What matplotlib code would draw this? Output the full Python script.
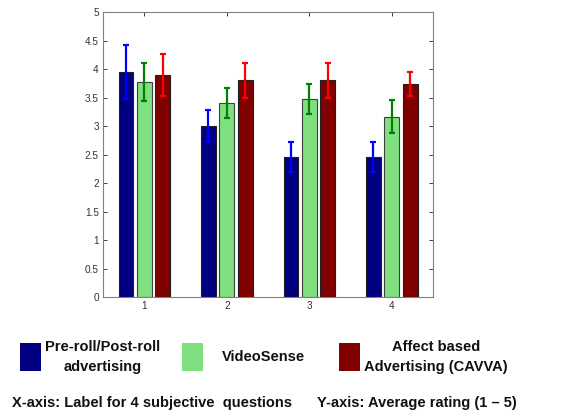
import matplotlib
matplotlib.use("Agg")
import matplotlib.pyplot as plt
from matplotlib.patches import Rectangle
import numpy as np

questions = [1, 2, 3, 4]
series_names = ["Pre-roll/Post-roll\nadvertising", "VideoSense",
                "Affect based\nAdvertising (CAVVA)"]
means = [
    [3.95, 3.00, 2.46, 2.46],
    [3.77, 3.40, 3.47, 3.16],
    [3.90, 3.80, 3.80, 3.74],
]
errors = [
    [0.47, 0.28, 0.26, 0.26],
    [0.33, 0.26, 0.26, 0.29],
    [0.37, 0.31, 0.31, 0.21],
]
bar_colors = ["#000080", "#80e080", "#800000"]
err_colors = ["#0000ff", "#008000", "#ff0000"]
edge_colors = ["#202020", "#404040", "#202020"]
yticks = [0, 0.5, 1, 1.5, 2, 2.5, 3, 3.5, 4, 4.5, 5]
xlabel_note = "X-axis: Label for 4 subjective  questions"
ylabel_note = "Y-axis: Average rating (1 \u2013 5)"

plt.rcParams["font.family"] = ["Liberation Sans", "DejaVu Sans"]

fig = plt.figure(figsize=(5.7, 4.16), dpi=100)
ax = fig.add_axes([0.1807, 0.286, 0.579, 0.685])

x = np.array(questions, dtype=float)
offsets = [-0.222, 0.0, 0.222]
width = 0.18
for i in range(3):
    ax.bar(x + offsets[i], means[i], width=width, color=bar_colors[i],
           edgecolor=edge_colors[i], linewidth=0.8, zorder=2)
    ax.errorbar(x + offsets[i], means[i], yerr=errors[i], fmt="none",
                ecolor=err_colors[i], elinewidth=1.6, capsize=2.2,
                capthick=1.6, zorder=3)

ax.set_xlim(0.5, 4.5)
ax.set_ylim(0, 5)
ax.set_xticks(questions)
ax.set_yticks(yticks)
ax.set_yticklabels([f"{t:g}" for t in yticks])
for s in ax.spines.values():
    s.set_color("#808080")
    s.set_linewidth(0.8)
ax.tick_params(direction="in", length=3, width=0.7, colors="#404040",
               labelsize=7.2, top=True, right=True, pad=3)
ax.tick_params(axis="both", labelcolor="#333333")

# legend drawn beneath the axes
swatch_x = [20, 182, 339]
text_x = [103, 263, 436]
for i in range(3):
    fig.add_artist(Rectangle((swatch_x[i] / 570, 1 - 371 / 416), 21 / 570,
                             28 / 416, transform=fig.transFigure,
                             facecolor=bar_colors[i], edgecolor="none"))
    fig.text(text_x[i] / 570, 1 - 357 / 416, series_names[i], ha="center",
             va="center", fontsize=10.5, fontweight="bold",
             linespacing=1.5, color="#111111")

fig.text(12 / 570, 1 - 403 / 416, xlabel_note, ha="left", va="center",
         fontsize=10.5, fontweight="bold", color="#111111")
fig.text(317 / 570, 1 - 403 / 416, ylabel_note, ha="left", va="center",
         fontsize=10.5, fontweight="bold", color="#111111")

fig.savefig("out.png", dpi=100)
